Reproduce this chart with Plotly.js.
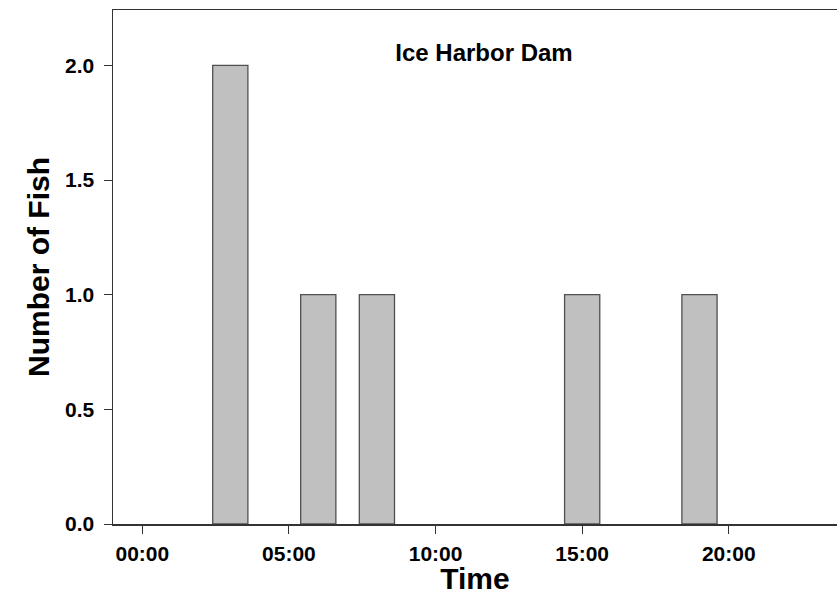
<!DOCTYPE html>
<html>
<head>
<meta charset="utf-8">
<script src="https://cdn.plot.ly/plotly-3.0.1.min.js"></script>
<style>
  html, body { margin: 0; padding: 0; background: #fff; }
  #chart { width: 837px; height: 595px; }
</style>
</head>
<body>
<div id="chart"></div>
<script>
// Hours of day (bar centres) and number of fish
const hours = [3, 6, 8, 15, 19];
const fishCounts = [2, 1, 1, 1, 1];
const xTickVals = [0, 5, 10, 15, 20];
const xTickText = ["00:00", "05:00", "10:00", "15:00", "20:00"];
const yTickVals = [0, 0.5, 1.0, 1.5, 2.0];

const FONT = "Liberation Sans, Arial, Helvetica, sans-serif";

const trace = {
  type: "bar",
  x: hours,
  y: fishCounts,
  width: 1.2,
  marker: { color: "#c0c0c0", line: { color: "#505050", width: 1.3 } },
  hoverinfo: "skip"
};

const layout = {
  width: 837,
  height: 595,
  margin: { l: 113, r: 0, t: 10, b: 71, pad: 0 },
  paper_bgcolor: "#ffffff",
  plot_bgcolor: "#ffffff",
  showlegend: false,
  font: { family: FONT, color: "#000" },
  title: {
    text: "Ice Harbor Dam",
    font: { family: FONT, size: 24, weight: "bold", color: "#000" },
    x: 0.5124, xref: "paper", xanchor: "center",
    y: 1 - 53 / 595, yref: "container", yanchor: "middle"
  },
  xaxis: {
    range: [-1, 23.69],
    tickmode: "array",
    tickvals: xTickVals,
    ticktext: xTickText,
    ticks: "outside",
    ticklen: 8,
    tickwidth: 1,
    tickcolor: "#333",
    showline: true,
    linecolor: "#333",
    linewidth: 1.5,
    mirror: true,
    showgrid: false,
    zeroline: false,
    tickfont: { family: FONT, size: 21, weight: "bold", color: "#000" },
    ticklabelstandoff: 2,
    title: {
      text: "Time",
      font: { family: FONT, size: 30, weight: "bold", color: "#000" },
      standoff: 7
    }
  },
  yaxis: {
    range: [0, 2.2416],
    tickmode: "array",
    tickvals: yTickVals,
    tickformat: ".1f",
    ticks: "outside",
    ticklen: 8,
    tickwidth: 1,
    tickcolor: "#333",
    showline: true,
    linecolor: "#333",
    linewidth: 1.5,
    showgrid: false,
    zeroline: false,
    tickfont: { family: FONT, size: 21, weight: "bold", color: "#000" },
    ticklabelstandoff: 5,
    title: {
      text: "Number of Fish",
      font: { family: FONT, size: 30, weight: "bold", color: "#000" },
      standoff: 6
    }
  }
};

Plotly.newPlot("chart", [trace], layout, { displayModeBar: false, staticPlot: true });
</script>
</body>
</html>
